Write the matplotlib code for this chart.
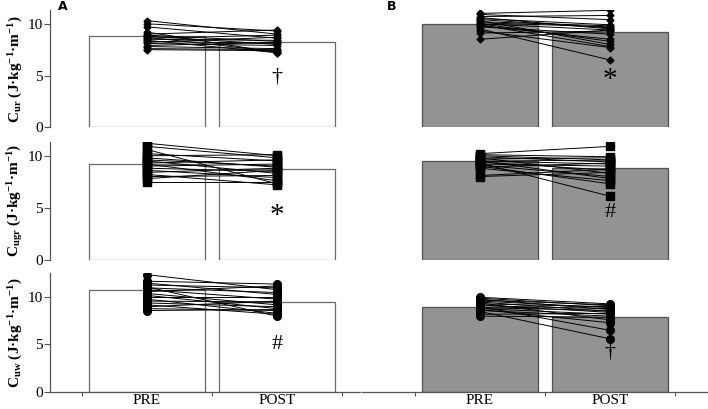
import matplotlib
matplotlib.use("Agg")
import matplotlib.pyplot as plt
import numpy as np

plt.rcParams['font.family'] = ['Liberation Serif', 'DejaVu Serif']
plt.rcParams['mathtext.fontset'] = 'custom'
plt.rcParams['mathtext.rm'] = 'Liberation Serif:bold'
plt.rcParams['mathtext.bf'] = 'Liberation Serif:bold'
plt.rcParams['mathtext.it'] = 'Liberation Serif:bold'
plt.rcParams['mathtext.default'] = 'rm'

categories = ["PRE", "POST"]
row_labels = [r"C$_{ur}$ (J·kg$^{-1}$·m$^{-1}$)",
              r"C$_{ugr}$ (J·kg$^{-1}$·m$^{-1}$)",
              r"C$_{uw}$ (J·kg$^{-1}$·m$^{-1}$)"]

# bar heights [row] -> (PRE, POST)
bars_A = [(8.82, 8.21), (9.23, 8.69), (10.74, 9.47)]
bars_B = [(9.98, 9.20), (9.52, 8.85), (8.97, 7.95)]

# individual subjects, group A
curA_pre  = [10.3, 10.0, 9.7, 9.2, 9.0, 8.9, 8.8, 8.7, 8.6, 8.5, 8.4, 8.3, 8.2, 8.1, 7.9, 7.8, 7.6, 7.5]
curA_post = [9.0, 9.3, 8.6, 7.2, 9.4, 8.3, 8.0, 7.3, 8.9, 8.4, 7.2, 8.1, 8.7, 7.9, 8.2, 7.6, 7.5, 7.4]
cugrA_pre  = [11.2, 10.9, 10.6, 10.2, 10.0, 9.8, 9.6, 9.5, 9.3, 9.2, 9.0, 8.8, 8.6, 8.4, 8.2, 8.0, 7.8, 7.5]
cugrA_post = [10.0, 9.8, 7.3, 9.5, 10.1, 8.9, 9.0, 8.3, 9.6, 7.6, 9.2, 8.5, 7.9, 8.8, 7.2, 8.1, 8.6, 7.5]
cuwA_pre  = [12.4, 11.7, 11.5, 11.3, 11.1, 11.0, 10.8, 10.6, 10.4, 10.2, 10.0, 9.8, 9.6, 9.4, 9.2, 9.0, 8.8, 8.6]
cuwA_post = [10.8, 11.4, 10.3, 11.0, 8.0, 10.5, 9.8, 11.2, 9.2, 8.8, 10.0, 8.3, 9.5, 9.0, 8.2, 9.6, 8.6, 8.7]

# individual subjects, group B
curB_pre  = [11.0, 10.9, 10.7, 10.6, 10.5, 10.4, 10.3, 10.2, 10.1, 10.0, 10.0, 9.9, 9.8, 9.7, 9.5, 9.3, 9.1, 8.5]
curB_post = [11.3, 10.4, 10.8, 9.5, 9.9, 9.6, 8.0, 9.8, 9.7, 8.3, 9.4, 7.8, 8.5, 9.0, 6.5, 7.7, 9.3, 9.4]
cugrB_pre  = [10.2, 10.1, 10.0, 9.9, 9.8, 9.7, 9.6, 9.5, 9.5, 9.4, 9.3, 9.2, 9.1, 9.0, 8.9, 8.8, 8.1, 8.0]
cugrB_post = [10.9, 9.9, 9.6, 9.4, 8.3, 9.8, 9.5, 7.8, 9.2, 8.6, 6.1, 9.0, 8.0, 7.3, 9.3, 7.6, 8.7, 8.4]
cuwB_pre  = [10.0, 9.9, 9.8, 9.7, 9.6, 9.5, 9.4, 9.3, 9.2, 9.1, 9.0, 8.9, 8.8, 8.7, 8.6, 8.5, 8.2, 8.0]
cuwB_post = [9.3, 9.1, 8.7, 9.2, 8.9, 8.5, 7.6, 9.0, 8.4, 8.8, 6.5, 8.6, 8.2, 7.3, 8.0, 5.6, 8.3, 7.9]

subjects_A = [(curA_pre, curA_post), (cugrA_pre, cugrA_post), (cuwA_pre, cuwA_post)]
subjects_B = [(curB_pre, curB_post), (cugrB_pre, cugrB_post), (cuwB_pre, cuwB_post)]

# significance symbols: (text, y)
sig_A = [("†", 4.8), ("*", 4.2), ("#", 5.0)]
sig_B = [("*", 4.6), ("#", 4.5), ("†", 4.1)]
sig_size = {"*": 21, "#": 16, "†": 16}

markers = [("D", 3.5), ("s", 5.5), ("o", 5.5)]
ylims = [11.33, 11.35, 12.54]

W, H = 708, 409
fig = plt.figure(figsize=(W / 100, H / 100), dpi=100)

rows_px = [(10, 127.3), (141.7, 259.7), (273.3, 391.7)]
cols_px = [(50, 360), (362, 707)]
xlims = [(-0.746, 1.638), (-0.908, 1.746)]

spine_col = "#555555"
for r in range(3):
    top, bot = rows_px[r]
    for c in range(2):
        x0, x1 = cols_px[c]
        ax = fig.add_axes([x0 / W, 1 - bot / H, (x1 - x0) / W, (bot - top) / H])
        ax.set_xlim(*xlims[c])
        ax.set_ylim(0, ylims[r])
        ax.patch.set_alpha(0)
        for s in ["top", "right"]:
            ax.spines[s].set_visible(False)
        bars = bars_A if c == 0 else bars_B
        subj = subjects_A if c == 0 else subjects_B
        sig = sig_A if c == 0 else sig_B
        fc = "white" if c == 0 else "#939393"
        ec = "#6a6a6a" if c == 0 else "#505050"
        ax.bar([0, 1], bars[r], width=0.89, color=fc, edgecolor=ec, linewidth=0.9, zorder=1)
        pre, post = subj[r]
        m, ms = markers[r]
        for a, b in zip(pre, post):
            ax.plot([0, 1], [a, b], color="black", lw=0.7, zorder=2,
                    marker=m, markersize=ms, markerfacecolor="black", markeredgecolor="black")
        sym, sy = sig[r]
        ax.text(1, sy, sym, ha="center", va="center", fontsize=sig_size[sym], zorder=3)

        if c == 0:
            ax.set_yticks([0, 5, 10])
            ax.tick_params(axis="y", direction="out", length=4, width=0.8, colors=spine_col,
                           labelcolor="black", labelsize=11, pad=1)
            ax.spines["left"].set_color(spine_col)
            ax.set_ylabel(row_labels[r], fontsize=11, fontweight="bold", labelpad=2)
        else:
            ax.spines["left"].set_visible(False)
            ax.set_yticks([])
        if r == 2:
            ax.set_xticks([0, 1])
            ax.set_xticklabels(categories, fontsize=11)
            ax.set_xticks([-0.5, 0.5, 1.5], minor=True)
            ax.tick_params(axis="x", which="major", length=0, pad=2)
            ax.tick_params(axis="x", which="minor", direction="out", length=3, width=0.8, colors=spine_col)
            ax.spines["bottom"].set_color(spine_col)
        else:
            ax.spines["bottom"].set_visible(False)
            ax.set_xticks([])
        for s in ax.spines.values():
            s.set_linewidth(0.9)

fig.text(63 / W, 1 - 7 / H, "A", fontsize=9, fontweight="bold", family="DejaVu Sans",
         ha="center", va="center")
fig.text(392 / W, 1 - 7 / H, "B", fontsize=9, fontweight="bold", family="DejaVu Sans",
         ha="center", va="center")

fig.savefig("out.png", dpi=100)
